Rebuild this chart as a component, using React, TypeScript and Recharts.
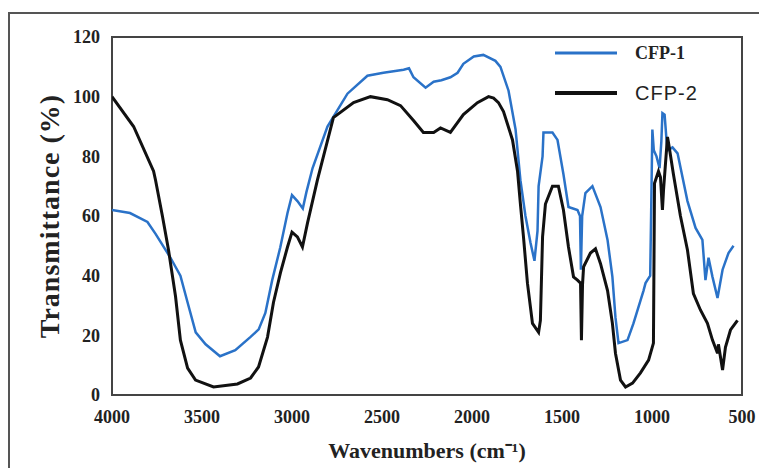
import { LineChart, Line, XAxis, YAxis, Legend, ReferenceArea, Label } from "recharts";

// CFP-1 spectrum (blue): wavenumber (cm-1) and transmittance (%)
const cfp1Wave = [
  4000, 3900, 3803, 3758, 3675, 3620, 3580, 3535, 3480, 3400, 3315, 3230, 3185, 3148, 3110, 3065, 3025, 3000,
  2970, 2940, 2920, 2886, 2803, 2692, 2581, 2492, 2380, 2350, 2325, 2258, 2213, 2170, 2120, 2080, 2048, 1990,
  1937, 1870, 1842, 1797, 1758, 1731, 1703, 1675, 1653, 1636, 1630, 1608, 1603, 1553, 1525, 1492, 1464, 1414,
  1400, 1395, 1388, 1370, 1331, 1286, 1247, 1220, 1203, 1186, 1136, 1103, 1047, 1036, 1010, 1005, 998, 990,
  975, 958, 948, 942, 930, 920, 914, 886, 858, 803, 758, 720, 703, 686, 664, 636, 608, 575, 547,
];
const cfp1Trans = [
  62, 61, 58, 54, 46, 40, 31, 21, 17, 13, 15, 19.5, 22, 27.5, 38.5, 49.5, 61, 67,
  65, 62.5, 68, 76, 90, 101, 107, 108, 109, 109.5, 106.5, 103, 105, 105.5, 106.5, 108, 111, 113.5,
  114, 112, 110, 102, 89, 72, 60, 51, 45, 55, 70, 80, 88, 88, 85.5, 74, 63, 62,
  60, 42, 60, 67.7, 70, 63, 52, 39.6, 26, 17.4, 18.4, 24, 35, 37.5, 40, 60, 89, 82,
  80, 76, 85, 94.5, 94, 86, 82, 83, 81, 65, 56, 52, 38.5, 46, 39.6, 32.5, 42, 47.6, 50,
];

// CFP-2 spectrum (black)
const cfp2Wave = [
  4000, 3880, 3769, 3758, 3720, 3686, 3647, 3620, 3580, 3536, 3436, 3303, 3230, 3186, 3136, 3103, 3064, 3025,
  3000, 2970, 2942, 2914, 2859, 2770, 2658, 2564, 2470, 2397, 2325, 2270, 2213, 2175, 2120, 2048, 1970, 1908,
  1880, 1853, 1825, 1775, 1747, 1731, 1714, 1692, 1664, 1630, 1620, 1608, 1592, 1553, 1520, 1492, 1464, 1436,
  1414, 1397, 1392, 1386, 1380, 1342, 1314, 1286, 1247, 1220, 1203, 1175, 1147, 1108, 1064, 1019, 992, 986,
  964, 953, 942, 936, 914, 908, 881, 842, 803, 770, 731, 692, 664, 636, 631, 608, 592, 564, 525,
];
const cfp2Trans = [
  100, 90, 75, 72, 60, 48.6, 33, 18.4, 9, 5, 2.7, 3.7, 5.7, 9.4, 19.4, 31, 41, 49.6,
  54.6, 53, 49.6, 57.6, 72, 93, 98, 100, 99, 97, 92, 88, 88, 89.5, 88, 94, 98, 100,
  99.5, 98, 95, 85.5, 75, 64, 53, 37.5, 24, 21, 25, 53, 64, 70, 70, 62, 49.6, 39.6,
  38.5, 37.5, 18.4, 37, 43, 47.6, 49, 44, 35, 24, 14, 5, 2.7, 4, 7.4, 11.7, 17.4, 71,
  75, 73, 62, 68.7, 86.5, 84.5, 74, 60, 48.6, 34, 28.5, 24, 18.4, 14, 17, 8.4, 16, 21.8, 25,
];

const xTicks = [4000, 3500, 3000, 2500, 2000, 1500, 1000, 500];
const yTicks = [0, 20, 40, 60, 80, 100, 120];

const cfp1 = cfp1Wave.map((w, i) => ({ wave: w, t: cfp1Trans[i] }));
const cfp2 = cfp2Wave.map((w, i) => ({ wave: w, t: cfp2Trans[i] }));

const serif = "'Liberation Serif', 'Times New Roman', serif";
const sans = "'Liberation Sans', Arial, sans-serif";
const textColor = "#222";

const legendText: Record<string, React.CSSProperties> = {
  "CFP-1": { fontFamily: serif, fontWeight: 700, fontSize: 18 },
  "CFP-2": { fontFamily: sans, fontSize: 20, letterSpacing: 1 },
};

function SpectrumLegend({ payload }: any) {
  return (
    <div>
      {(payload || []).map((p: any) => (
        <div key={p.value} style={{ display: "flex", alignItems: "center", height: 40 }}>
          <svg width={62} height={6} style={{ marginRight: 18 }}>
            <line x1={0} x2={62} y1={3} y2={3} stroke={p.color} strokeWidth={p.value === "CFP-2" ? 4 : 3} />
          </svg>
          <span style={{ color: textColor, ...legendText[p.value] }}>{p.value}</span>
        </div>
      ))}
    </div>
  );
}

export default function App() {
  return (
    <div style={{ position: "relative", width: 759, height: 460, overflow: "hidden" }}>
      <div
        style={{
          position: "absolute",
          left: 0,
          top: 4,
          width: 800,
          height: 500,
          border: "2px solid #555",
        }}
      />
      <div style={{ position: "absolute", left: 0, top: 0 }}>
        <LineChart width={759} height={460} margin={{ top: 29, right: 25, left: 20, bottom: 5 }}>
          <XAxis
            type="number"
            dataKey="wave"
            domain={[500, 4000]}
            reversed
            ticks={xTicks}
            allowDataOverflow
            height={68}
            tickLine={false}
            axisLine={false}
            tickSize={6}
            tickMargin={9}
            tick={{ fill: textColor, fontFamily: serif, fontWeight: 700, fontSize: 18 }}
          >
            <Label
              value="Wavenumbers (cm⁻¹)"
              position="insideBottom"
              offset={5}
              style={{ fill: textColor, fontFamily: serif, fontWeight: 700, fontSize: 22 }}
            />
          </XAxis>
          <YAxis
            type="number"
            domain={[0, 120]}
            ticks={yTicks}
            width={84}
            tickLine={false}
            axisLine={false}
            tickSize={6}
            tickMargin={6}
            tick={{ fill: textColor, fontFamily: serif, fontWeight: 700, fontSize: 18 }}
          >
            <Label
              value="Transmittance (%)"
              angle={-90}
              position="insideLeft"
              offset={21}
              style={{
                textAnchor: "middle",
                fill: textColor,
                fontFamily: serif,
                fontWeight: 700,
                fontSize: 28,
                letterSpacing: 1,
              }}
            />
          </YAxis>
          <ReferenceArea x1={4000} x2={500} y1={0} y2={120} fill="none" stroke="#444" strokeWidth={2} />
          <Legend
            content={<SpectrumLegend />}
            layout="horizontal"
            verticalAlign="middle"
            align="center"
            wrapperStyle={{ left: 547, top: 25, width: 180 }}
          />
          <Line
            data={cfp1}
            dataKey="t"
            name="CFP-1"
            type="linear"
            stroke="#2a72c8"
            strokeWidth={2.5}
            dot={false}
            isAnimationActive={false}
          />
          <Line
            data={cfp2}
            dataKey="t"
            name="CFP-2"
            type="linear"
            stroke="#111"
            strokeWidth={3}
            dot={false}
            isAnimationActive={false}
          />
        </LineChart>
      </div>
    </div>
  );
}
